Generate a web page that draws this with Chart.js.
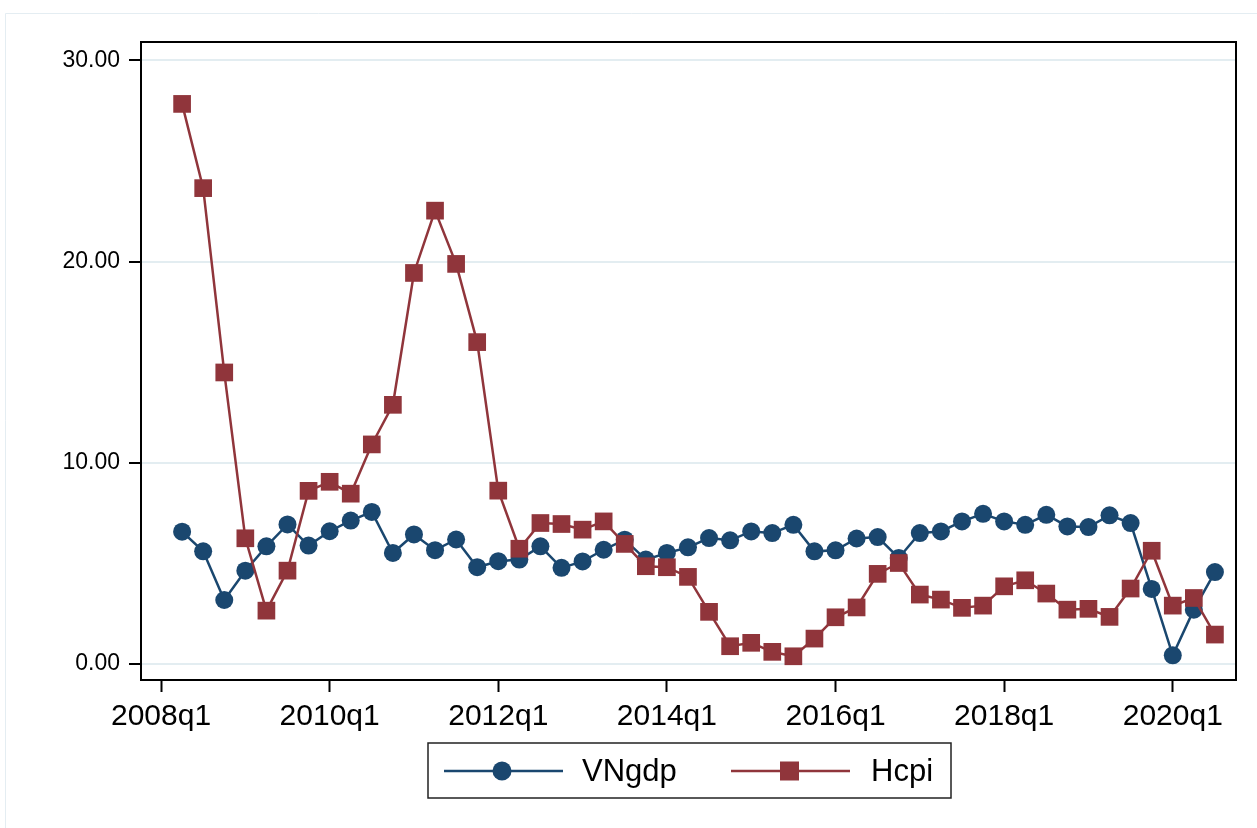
<!DOCTYPE html>
<html>
<head>
<meta charset="utf-8">
<script src="https://cdn.jsdelivr.net/npm/chart.js@4/dist/chart.umd.min.js"></script>
<style>
body{margin:0;background:#fff;}
</style>
</head>
<body>
<canvas id="chart" width="1257" height="828"></canvas>
<script>
// quarterly data, 2008q2 .. 2020q3
let quarters = [
'2008q2','2008q3','2008q4',
'2009q1','2009q2','2009q3','2009q4',
'2010q1','2010q2','2010q3','2010q4',
'2011q1','2011q2','2011q3','2011q4',
'2012q1','2012q2','2012q3','2012q4',
'2013q1','2013q2','2013q3','2013q4',
'2014q1','2014q2','2014q3','2014q4',
'2015q1','2015q2','2015q3','2015q4',
'2016q1','2016q2','2016q3','2016q4',
'2017q1','2017q2','2017q3','2017q4',
'2018q1','2018q2','2018q3','2018q4',
'2019q1','2019q2','2019q3','2019q4',
'2020q1','2020q2','2020q3'
];

let vngdp = [
6.56, 5.58, 3.16,
4.62, 5.83, 6.92, 5.87,
6.58, 7.11, 7.54, 5.50,
6.42, 5.64, 6.17, 4.79,
5.09, 5.17, 5.83, 4.76,
5.08, 5.66, 6.16, 5.17,
5.50, 5.78, 6.24, 6.13,
6.57, 6.49, 6.90, 5.58,
5.63, 6.22, 6.29, 5.25,
6.49, 6.57, 7.07, 7.45,
7.07, 6.90, 7.40, 6.82,
6.79, 7.37, 6.99, 3.71,
0.41, 2.68, 4.55
];

let hcpi = [
27.84, 23.65, 14.48,
6.23, 2.63, 4.62, 8.59,
9.04, 8.45, 10.90, 12.87,
19.43, 22.53, 19.88, 15.99,
8.60, 5.71, 6.99, 6.94,
6.66, 7.07, 5.95, 4.84,
4.79, 4.31, 2.57, 0.86,
1.03, 0.58, 0.36, 1.24,
2.30, 2.79, 4.46, 5.00,
3.43, 3.18, 2.77, 2.88,
3.84, 4.14, 3.48, 2.68,
2.72, 2.32, 3.73, 5.61,
2.88, 3.26, 1.44
];

let xTickLabels = ['2008q1','2010q1','2012q1','2014q1','2016q1','2018q1','2020q1'];
let yTicks = [0, 10, 20, 30];

let navy = '#1a476f';
let maroon = '#90353b';
let fontFamily = "'Liberation Sans', Arial, Helvetica, sans-serif";

// quarter label -> number of quarters after 2008q1
function qpos(label){
  let year = parseInt(label.substring(0,4));
  let q = parseInt(label.substring(5));
  return (year - 2008) * 4 + (q - 1);
}

function toPoints(values){
  return values.map(function(v, i){ return {x: qpos(quarters[i]), y: v}; });
}

// frame round the plot, faint outer border, and the boxed legend
let framePlugin = {
  id: 'frame',
  beforeDraw: function(chart){
    let ctx = chart.ctx;
    ctx.save();
    ctx.fillStyle = '#fff';
    ctx.fillRect(0, 0, chart.width, chart.height);
    ctx.strokeStyle = '#e4edf2';
    ctx.lineWidth = 1;
    ctx.beginPath();
    ctx.moveTo(5.5, chart.height);
    ctx.lineTo(5.5, 13.5);
    ctx.lineTo(chart.width, 13.5);
    ctx.stroke();
    ctx.restore();
  },
  afterDraw: function(chart){
    let ctx = chart.ctx;
    let a = chart.chartArea;
    ctx.save();
    ctx.strokeStyle = '#000';
    ctx.lineWidth = 2;
    ctx.strokeRect(a.left, a.top, a.right - a.left, a.bottom - a.top);

    // legend
    ctx.lineWidth = 1.5;
    ctx.strokeStyle = '#222';
    ctx.strokeRect(428, 743, 523, 55);
    let ly = 771;
    ctx.lineWidth = 2.5;
    ctx.strokeStyle = navy;
    ctx.beginPath(); ctx.moveTo(444, ly); ctx.lineTo(563, ly); ctx.stroke();
    ctx.fillStyle = navy;
    ctx.beginPath(); ctx.arc(502, ly, 9.5, 0, Math.PI * 2); ctx.fill();
    ctx.strokeStyle = maroon;
    ctx.beginPath(); ctx.moveTo(731, ly); ctx.lineTo(850, ly); ctx.stroke();
    ctx.fillStyle = maroon;
    ctx.fillRect(780, ly - 9.5, 19, 19);
    ctx.fillStyle = '#000';
    ctx.font = '31px ' + fontFamily;
    ctx.textBaseline = 'middle';
    ctx.textAlign = 'left';
    ctx.fillText(chart.data.datasets[0].label, 582, ly + 1);
    ctx.fillText(chart.data.datasets[1].label, 871, ly + 1);
    ctx.restore();
  }
};

new Chart(document.getElementById('chart'), {
  type: 'line',
  data: {
    datasets: [{
      label: 'VNgdp',
      data: toPoints(vngdp),
      borderColor: navy,
      backgroundColor: navy,
      borderWidth: 2.5,
      pointStyle: 'circle',
      pointRadius: 9,
      pointBorderWidth: 0,
      tension: 0,
      order: 1
    }, {
      label: 'Hcpi',
      data: toPoints(hcpi),
      borderColor: maroon,
      backgroundColor: maroon,
      borderWidth: 2.5,
      pointStyle: 'rect',
      pointRadius: 12.5,
      pointBorderWidth: 0,
      tension: 0,
      order: 0
    }]
  },
  options: {
    responsive: false,
    animation: false,
    layout: { padding: { top: 42, right: 21, left: 0, bottom: 0 } },
    plugins: {
      legend: { display: false },
      tooltip: { enabled: false }
    },
    scales: {
      x: {
        type: 'linear',
        min: -0.95,
        max: 51,
        afterBuildTicks: function(scale){
          scale.ticks = xTickLabels.map(function(l){ return {value: qpos(l)}; });
        },
        afterFit: function(scale){ scale.height = 148; },
        ticks: {
          autoSkip: false,
          maxRotation: 0,
          padding: 7,
          color: '#000',
          font: { family: fontFamily, size: 30 },
          callback: function(v){
            let hit = xTickLabels.find(function(l){ return qpos(l) === v; });
            return hit || '';
          }
        },
        grid: { drawOnChartArea: false, drawTicks: true, tickLength: 12, tickColor: '#000', tickWidth: 2 },
        border: { display: true, color: '#000', width: 2 }
      },
      y: {
        min: -0.82,
        max: 30.92,
        afterBuildTicks: function(scale){
          scale.ticks = yTicks.map(function(v){ return {value: v}; });
        },
        afterFit: function(scale){ scale.width = 141; },
        ticks: {
          padding: 9,
          color: '#000',
          font: { family: fontFamily, size: 23 },
          callback: function(v){ return v.toFixed(2); }
        },
        grid: { color: '#e3edf1', lineWidth: 2, drawTicks: true, tickLength: 12, tickColor: '#000', tickWidth: 2 },
        border: { display: true, color: '#000', width: 2 }
      }
    }
  },
  plugins: [framePlugin]
});
</script>
</body>
</html>
